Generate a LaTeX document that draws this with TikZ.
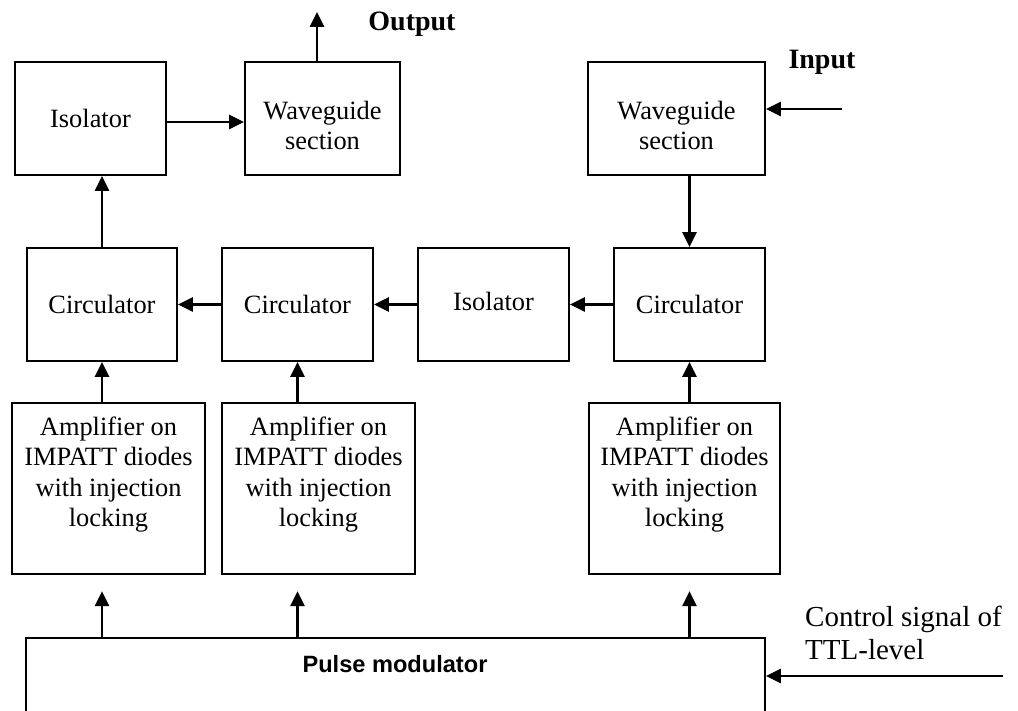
\documentclass[tikz,border=0pt]{standalone}
\usepackage{fontspec}
\setmainfont{Liberation Serif}
\newfontfamily\arialfont{Liberation Sans}
\usetikzlibrary{arrows.meta}
\tikzset{
  blk/.style={draw, line width=1.8pt, minimum height=113pt, inner sep=0pt, font=\fontsize{26.4}{30.5}\selectfont},
  ampblk/.style={blk, minimum width=193pt, minimum height=171pt},
  txt/.style={align=center, inner sep=0pt, font=\fontsize{26.4}{30.5}\selectfont},
  arr/.style={line width=2.6pt, -{Triangle[length=15pt,width=14pt]}},
  hdr/.style={font=\fontsize{28}{32}\selectfont\bfseries}
}
\begin{document}
\begin{tikzpicture}[x=1pt,y=-1pt]
\useasboundingbox (0,0) rectangle (1018,711);
% top row
\node[blk, minimum width=151pt] (iso1) at (90.5,118.5) {Isolator};
\node[blk, minimum width=155pt] (wg1) at (322.5,118.5) {};
\node[txt] (wg1t) at ([yshift=-7pt]wg1.center) {Waveguide\\section};
\node[blk, minimum width=177pt] (wg2) at (676.5,118.5) {};
\node[txt] (wg2t) at ([yshift=-7pt]wg2.center) {Waveguide\\section};
\node[hdr] (outl) at (412,24) {Output};
\node[hdr] (inl) at (822,62) {Input};
\coordinate (out) at (317,12);
\coordinate (in) at (842,109);
% middle row
\node[blk, minimum width=150pt] (circ1) at (102,304.5) {Circulator};
\node[blk, minimum width=151pt] (circ2) at (297.5,304.5) {Circulator};
\node[blk, minimum width=151pt] (iso2) at (493.5,304.5) {\raisebox{6pt}{Isolator}};
\node[blk, minimum width=151pt] (circ3) at (689.5,304.5) {Circulator};
% amplifiers
\node[ampblk] (amp1) at (108.5,488.5) {};
\node[ampblk] (amp2) at (318.5,488.5) {};
\node[ampblk, minimum width=191pt] (amp3) at (684.5,488.5) {};
\foreach \a in {amp1,amp2,amp3}
  \node[txt] (\a t) at ([yshift=14pt]\a.center) {Amplifier on\\IMPATT diodes\\with injection\\locking};
% modulator
\node[blk, minimum width=739pt, minimum height=92pt] (pm) at (395.5,684) {};
\node[font=\arialfont\bfseries\fontsize{23.6}{28}\selectfont] (pmt) at (395,664) {Pulse modulator};
\node[txt, align=left, anchor=west, font=\fontsize{29}{33}\selectfont] (ctl) at (805,633) {Control signal of\\TTL-level};
\coordinate (ctlin) at (1003,676);
% connections
\draw[arr] ([yshift=-3.5pt]iso1.east) -- ([yshift=-3.5pt]wg1.west);
\draw[arr] ([xshift=-5.5pt]wg1.north) -- (out);
\draw[arr] (in) -- (wg2.east |- in);
\draw[arr] (wg2.south -| circ3) -- (circ3.north);
\draw[arr] (circ3.west) -- (iso2.east);
\draw[arr] (iso2.west) -- (circ2.east);
\draw[arr] (circ2.west) -- (circ1.east);
\draw[arr] (circ1.north) -- (circ1.north |- iso1.south);
\foreach \n in {1,2,3}{
  \draw[arr] (amp\n.north -| circ\n) -- (circ\n.south);
  \draw[arr] (pm.north -| circ\n) -- ++(0,-46);
}
\draw[arr] (ctlin) -- (pm.east |- ctlin);
\end{tikzpicture}
\end{document}
